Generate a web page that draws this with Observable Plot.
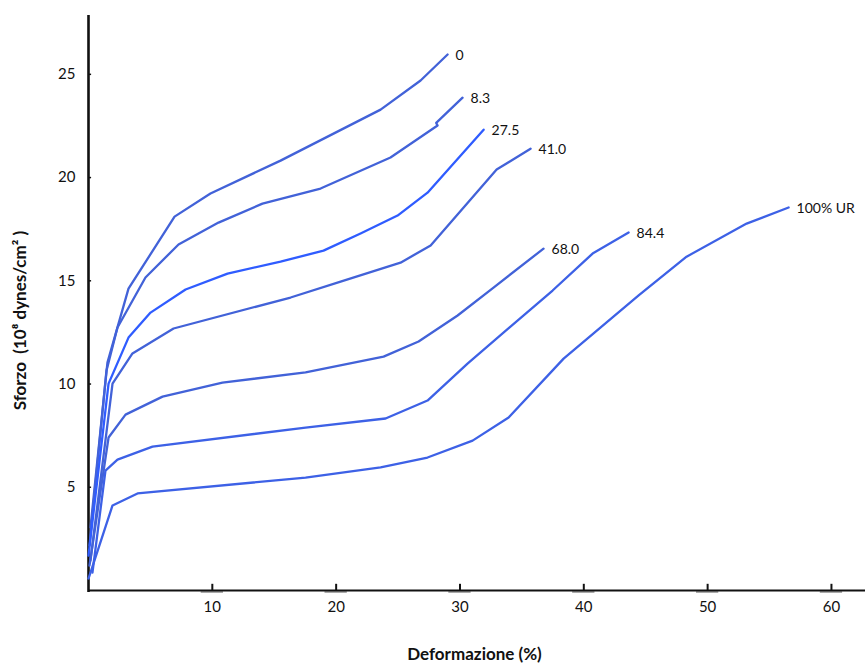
<!DOCTYPE html>
<html>
<head>
<meta charset="utf-8">
<script src="https://cdn.jsdelivr.net/npm/d3@7"></script>
<script src="https://cdn.jsdelivr.net/npm/@observablehq/plot@0.6"></script>
<style>
  html, body { margin: 0; padding: 0; background: #fff; }
  #chart { width: 865px; height: 668px; }
</style>
</head>
<body>
<div id="chart"></div>
<script>
// ---- data (strain %, stress 10^8 dynes/cm^2) ----
const curveNames = ["0", "8.3", "27.5", "41.0", "68.0", "84.4", "100% UR"];

const strain_0   = [0.16, 1.53, 3.23, 6.95, 9.85, 15.51, 23.59, 26.82, 29.0];
const stress_0   = [3.05, 11.04, 14.62, 18.11, 19.23, 20.82, 23.29, 24.7, 25.96];

const strain_8_3 = [0.08, 1.45, 2.34, 4.6, 7.27, 10.5, 14.05, 18.74, 24.39, 28.19, 28.08, 30.21];
const stress_8_3 = [2.18, 10.65, 12.74, 15.16, 16.76, 17.82, 18.74, 19.47, 20.97, 22.52, 22.65, 23.87];

const strain_27_5 = [0, 1.62, 3.23, 5.01, 7.84, 11.23, 15.51, 18.98, 21.97, 24.96, 27.38, 31.91];
const stress_27_5 = [1.69, 10.02, 12.25, 13.46, 14.58, 15.35, 15.93, 16.46, 17.29, 18.16, 19.27, 22.32];

const strain_41_0 = [0.16, 1.94, 3.55, 6.87, 16.32, 20.36, 25.2, 27.63, 32.96, 35.7];
const stress_41_0 = [1.45, 10.02, 11.48, 12.69, 14.19, 14.96, 15.88, 16.71, 20.39, 21.4];

const strain_68_0 = [0.08, 1.62, 2.99, 5.98, 10.82, 17.53, 23.83, 26.66, 29.81, 32.71, 36.75];
const stress_68_0 = [1.21, 7.41, 8.52, 9.39, 10.07, 10.56, 11.33, 12.06, 13.32, 14.67, 16.56];

const strain_84_4 = [0.32, 1.37, 2.34, 5.17, 17.53, 23.99, 27.38, 30.61, 37.48, 40.71, 43.62];
const stress_84_4 = [0.87, 5.81, 6.34, 6.97, 7.89, 8.33, 9.2, 10.99, 14.53, 16.32, 17.34];

const strain_100 = [0, 1.94, 3.96, 17.53, 23.59, 27.38, 31.02, 33.93, 38.37, 44.43, 48.3, 53.15, 56.54];
const stress_100 = [0.58, 4.12, 4.7, 5.47, 5.96, 6.44, 7.26, 8.38, 11.23, 14.29, 16.17, 17.77, 18.55];

const xTicks = [10, 20, 30, 40, 50, 60];
const yTicks = [5, 10, 15, 20, 25];

const xTitle = "Deformazione (%)";
const yTitle = "Sforzo  (10\u2078 dynes/cm\u00B2 )";

// ---- build table ----
const strains = [strain_0, strain_8_3, strain_27_5, strain_41_0, strain_68_0, strain_84_4, strain_100];
const stresses = [stress_0, stress_8_3, stress_27_5, stress_41_0, stress_68_0, stress_84_4, stress_100];
const rows = [];
curveNames.forEach((name, i) => {
  strains[i].forEach((s, j) => rows.push({series: name, strain: s, stress: stresses[i][j]}));
});
const ends = curveNames.map((name, i) => ({
  series: name,
  strain: strains[i][strains[i].length - 1],
  stress: stresses[i][stresses[i].length - 1]
}));

const colorRange = ["#4262d8", "#4262d8", "#2f5cff", "#4262d8", "#4262d8", "#3d61e6", "#3d61e6"];

const X_MAX = 62.75, Y_MAX = 27.85;

const chart = Plot.plot({
  width: 865,
  height: 668,
  marginLeft: 88,
  marginRight: 0,
  marginTop: 15,
  marginBottom: 78,
  x: {domain: [0, X_MAX]},
  y: {domain: [0, Y_MAX]},
  color: {domain: curveNames, range: colorRange},
  style: {fontFamily: "Lato, 'Open Sans', sans-serif", fontSize: "15px", color: "#111", background: "#fff"},
  marks: [
    Plot.axisX(xTicks, {tickSize: 0, tickPadding: 11, label: null, fontSize: 15}),
    Plot.axisY(yTicks, {tickSize: 0, tickPadding: 13, label: null, fontSize: 15}),
    // small tick marks
    Plot.ruleY(xTicks, {x1: d => d - 0.9, x2: d => d + 0.9, y: 0, dy: 1, stroke: "#aaa", strokeWidth: 3}),
    Plot.ruleX(xTicks, {y1: 0, y2: 0.3, stroke: "#111", strokeWidth: 2}),
    Plot.ruleY(yTicks, {x1: 0, x2: 0.25, stroke: "#111", strokeWidth: 1.5}),
    // axis lines
    Plot.ruleY([0], {x1: 0, x2: X_MAX, stroke: "#111", strokeWidth: 2}),
    Plot.ruleX([0], {y1: -0.1, y2: Y_MAX, stroke: "#111", strokeWidth: 2.6}),
    // curves
    Plot.line(rows, {x: "strain", y: "stress", z: "series", stroke: "series", strokeWidth: 2.3, strokeLinejoin: "round", strokeLinecap: "round"}),
    Plot.text(ends, {x: "strain", y: "stress", text: "series", dx: 8, dy: 1, textAnchor: "start", fontSize: 14, fill: "#111"}),
    // axis titles
    Plot.text([yTitle], {frameAnchor: "left", textAnchor: "middle", dx: -68, dy: 17.5, rotate: -90, fontWeight: "bold", fontSize: 17, fill: "#111"}),
    Plot.text([xTitle], {frameAnchor: "bottom", textAnchor: "middle", dx: -2.5, dy: 69, fontWeight: "bold", fontSize: 17, fill: "#111"})
  ]
});

document.getElementById("chart").appendChild(chart);
</script>
</body>
</html>
